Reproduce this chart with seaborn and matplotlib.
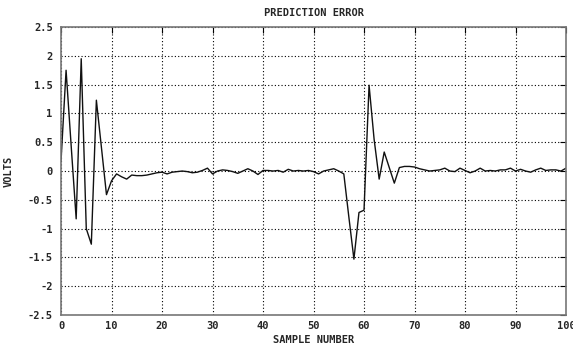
import matplotlib
matplotlib.use("Agg")
import matplotlib.pyplot as plt
import seaborn as sns
import pandas as pd
import numpy as np

samples = list(range(0, 101))
error = [
    0.18, 1.75, 0.45, -0.83, 1.95, -1.00, -1.27, 1.23, 0.41, -0.41,
    -0.17, -0.05, -0.10, -0.14, -0.07, -0.08, -0.08, -0.07, -0.05, -0.03,
    -0.02, -0.05, -0.02, -0.01, 0.00, -0.01, -0.03, -0.02, 0.01, 0.05,
    -0.05, 0.00, 0.02, 0.01, -0.01, -0.04, 0.00, 0.04, 0.00, -0.06,
    0.01, 0.01, 0.00, 0.01, -0.02, 0.03, 0.00, 0.01, 0.00, 0.01,
    -0.01, -0.05, 0.00, 0.02, 0.04, 0.00, -0.05, -0.80, -1.53, -0.72,
    -0.68, 1.49, 0.55, -0.14, 0.33, 0.06, -0.21, 0.06, 0.08, 0.08,
    0.07, 0.04, 0.02, 0.00, 0.01, 0.02, 0.05, 0.00, -0.01, 0.05,
    0.01, -0.03, 0.00, 0.05, 0.00, 0.01, 0.00, 0.02, 0.02, 0.05,
    0.00, 0.03, 0.00, -0.02, 0.02, 0.05, 0.01, 0.02, 0.02, 0.00,
    0.05,
]
xticks = list(range(0, 101, 10))
yticks = [2.5, 2, 1.5, 1, 0.5, 0, -0.5, -1, -1.5, -2, -2.5]
ytick_labels = ["2.5", "2", "1.5", "1", "0.5", "0", "-0.5", "-1", "-1.5", "-2", "-2.5"]

sns.set_style("white")
plt.rcParams['font.family'] = ['DejaVu Sans Mono']
plt.rcParams['font.weight'] = 'bold'

df = pd.DataFrame({"sample": samples, "error": error})

fig = plt.figure(figsize=(5.73, 3.47), dpi=100)
ax = fig.add_axes([0.1065, 0.0922, 0.8813, 0.8298])
sns.lineplot(data=df, x="sample", y="error", ax=ax, color="#111111", linewidth=1.0)

ax.set_xlim(0, 100)
ax.set_ylim(-2.5, 2.5)
ax.set_xticks(xticks)
ax.set_xticklabels([str(t) for t in xticks], fontsize=7.5, fontweight='bold')
ax.set_yticks(yticks)
ax.set_yticklabels(ytick_labels, fontsize=7.5, fontweight='bold')
ax.grid(True, color="black", linestyle=(0, (1, 2)), linewidth=0.8)
ax.tick_params(direction="in", length=4, width=0.8, color="black",
               top=True, right=True)
ax.tick_params(axis="y", pad=6)
ax.tick_params(axis="x", pad=4)
for s in ax.spines.values():
    s.set_color("#777777")
    s.set_linewidth(1.2)

ax.set_title("PREDICTION ERROR", fontsize=7.5, fontweight='bold', pad=8)
ax.set_xlabel("SAMPLE NUMBER", fontsize=7.5, fontweight='bold', labelpad=3)
ax.set_ylabel("VOLTS", fontsize=7.5, fontweight='bold', labelpad=10)

fig.savefig("out.png", dpi=100)
